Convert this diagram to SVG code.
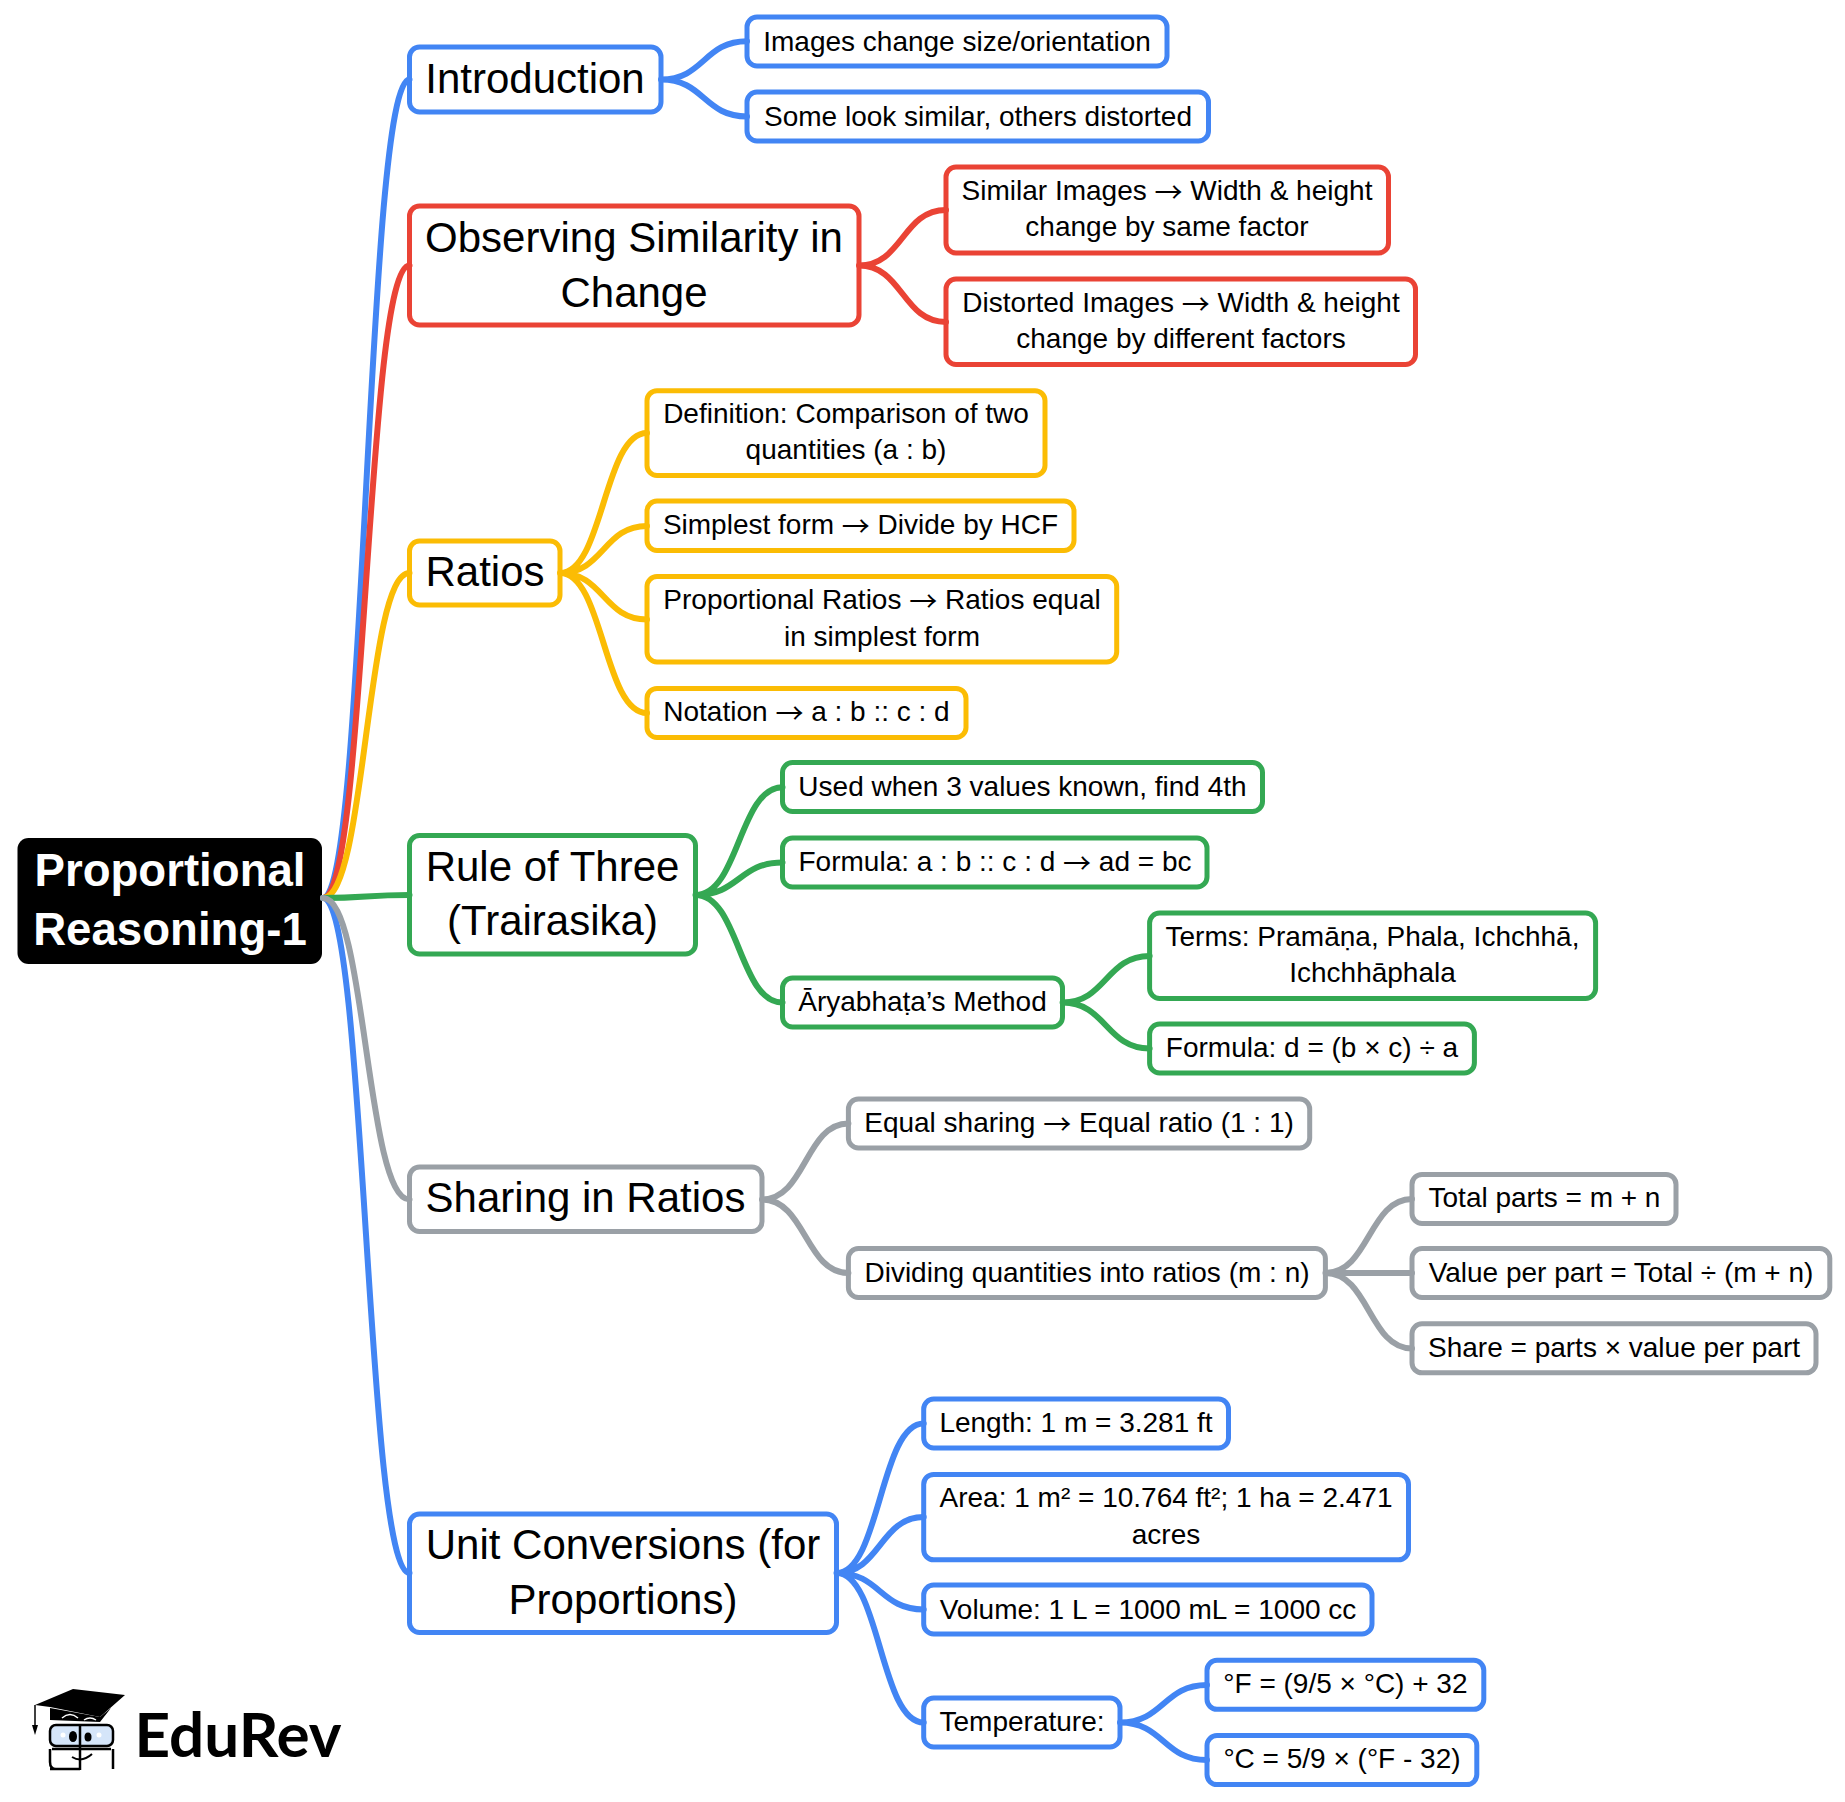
<svg xmlns="http://www.w3.org/2000/svg" width="1845" height="1802" viewBox="0 0 1845 1802">
<style>
text{font-family:"Liberation Sans",Arial,sans-serif;fill:#000;text-anchor:middle}
.l{font-size:28px}
.m{font-size:42px}
.a{font-family:"Noto Sans CJK SC",sans-serif;baseline-shift:-3px}
.b{fill:#fff;stroke-width:5}
.w{fill:none;stroke-width:6;stroke-linecap:round}
.blue{stroke:#4285f4}.red{stroke:#ea4335}.yel{stroke:#fbbc04}.grn{stroke:#34a853}.gry{stroke:#9aa0a6}
</style>
<rect width="1845" height="1802" fill="#fff"/>
<g id="root"><rect x="17.5" y="838" width="304.5" height="126" rx="11" fill="#000"/>
<text x="170" y="886" font-size="45.6" font-weight="700" style="fill:#fff">Proportional</text>
<text x="170" y="945" font-size="45.6" font-weight="700" style="fill:#fff">Reasoning-1</text></g>
<g id="n-intro"><rect class="b blue" x="409.5" y="47" width="251.5" height="65" rx="10"/><text class="m" x="535" y="93">Introduction</text></g>
<g id="n-obs"><rect class="b red" x="409.5" y="206" width="449.5" height="119" rx="10"/><text class="m" x="634" y="252">Observing Similarity in</text><text class="m" x="634" y="307">Change</text></g>
<g id="n-ratios"><rect class="b yel" x="409.5" y="541" width="150.5" height="64" rx="10"/><text class="m" x="485" y="586">Ratios</text></g>
<g id="n-rule"><rect class="b grn" x="409.5" y="835.5" width="286" height="118.5" rx="10"/><text class="m" x="552.5" y="881">Rule of Three</text><text class="m" x="552.5" y="935">(Trairasika)</text></g>
<g id="n-share"><rect class="b gry" x="409.5" y="1167" width="352.5" height="64.5" rx="10"/><text class="m" x="585.5" y="1212">Sharing in Ratios</text></g>
<g id="n-unit"><rect class="b blue" x="409.5" y="1514" width="427" height="118.5" rx="10"/><text class="m" x="623" y="1559">Unit Conversions (for</text><text class="m" x="623" y="1614">Proportions)</text></g>
<g id="l-images"><rect class="b blue" x="747" y="17" width="420" height="49" rx="10"/><text class="l" x="957" y="51">Images change size/orientation</text></g>
<g id="l-some"><rect class="b blue" x="747" y="92" width="461.5" height="49" rx="10"/><text class="l" x="978" y="126">Some look similar, others distorted</text></g>
<g id="l-similar"><rect class="b red" x="946" y="167" width="442.5" height="86" rx="10"/><text class="l" x="1167" y="200">Similar Images <tspan class="a">→</tspan> Width &amp; height</text><text class="l" x="1167" y="236">change by same factor</text></g>
<g id="l-distorted"><rect class="b red" x="946" y="279" width="469.5" height="85.5" rx="10"/><text class="l" x="1181" y="312">Distorted Images <tspan class="a">→</tspan> Width &amp; height</text><text class="l" x="1181" y="348">change by different factors</text></g>
<g id="l-def"><rect class="b yel" x="647" y="390.7" width="398" height="84.7" rx="10"/><text class="l" x="846" y="423">Definition: Comparison of two</text><text class="l" x="846" y="459">quantities (a : b)</text></g>
<g id="l-simplest"><rect class="b yel" x="647" y="501" width="427" height="49.5" rx="10"/><text class="l" x="860.5" y="534">Simplest form <tspan class="a">→</tspan> Divide by HCF</text></g>
<g id="l-prop"><rect class="b yel" x="647" y="576.6" width="469.7" height="85.4" rx="10"/><text class="l" x="882" y="609">Proportional Ratios <tspan class="a">→</tspan> Ratios equal</text><text class="l" x="882" y="646">in simplest form</text></g>
<g id="l-notation"><rect class="b yel" x="647" y="688.4" width="319" height="49" rx="10"/><text class="l" x="806.5" y="721">Notation <tspan class="a">→</tspan> a : b :: c : d</text></g>
<g id="l-used"><rect class="b grn" x="782.5" y="762.5" width="480" height="49" rx="10"/><text class="l" x="1022.5" y="796">Used when 3 values known, find 4th</text></g>
<g id="l-formula"><rect class="b grn" x="782.5" y="838" width="424.5" height="49" rx="10"/><text class="l" x="995" y="871">Formula: a : b :: c : d <tspan class="a">→</tspan> ad = bc</text></g>
<g id="l-arya"><rect class="b grn" x="782.5" y="978" width="280" height="49" rx="10"/><text class="l" x="922.5" y="1011">Āryabhaṭa’s Method</text></g>
<g id="l-terms"><rect class="b grn" x="1149.6" y="913" width="446" height="85.5" rx="10"/><text class="l" x="1372.5" y="946">Terms: Pramāṇa, Phala, Ichchhā,</text><text class="l" x="1372.5" y="982">Ichchhāphala</text></g>
<g id="l-formulad"><rect class="b grn" x="1149.6" y="1024" width="324.8" height="49" rx="10"/><text class="l" x="1312" y="1057">Formula: d = (b × c) ÷ a</text></g>
<g id="l-equal"><rect class="b gry" x="848.4" y="1099" width="461.3" height="49" rx="10"/><text class="l" x="1079" y="1132">Equal sharing <tspan class="a">→</tspan> Equal ratio (1 : 1)</text></g>
<g id="l-divide"><rect class="b gry" x="848.4" y="1248.5" width="477" height="49" rx="10"/><text class="l" x="1087" y="1282">Dividing quantities into ratios (m : n)</text></g>
<g id="l-total"><rect class="b gry" x="1412" y="1174.4" width="264" height="49" rx="10"/><text class="l" x="1544.5" y="1207">Total parts = m + n</text></g>
<g id="l-value"><rect class="b gry" x="1412" y="1248.5" width="417.8" height="49" rx="10"/><text class="l" x="1621" y="1282">Value per part = Total ÷ (m + n)</text></g>
<g id="l-sharep"><rect class="b gry" x="1412" y="1323.8" width="404" height="49" rx="10"/><text class="l" x="1614" y="1357">Share = parts × value per part</text></g>
<g id="l-length"><rect class="b blue" x="923.7" y="1399" width="304.8" height="49" rx="10"/><text class="l" x="1076" y="1432">Length: 1 m = 3.281 ft</text></g>
<g id="l-area"><rect class="b blue" x="923.7" y="1474.4" width="484.8" height="85.4" rx="10"/><text class="l" x="1166" y="1507">Area: 1 m² = 10.764 ft²; 1 ha = 2.471</text><text class="l" x="1166" y="1544">acres</text></g>
<g id="l-volume"><rect class="b blue" x="923.7" y="1585" width="448.3" height="49" rx="10"/><text class="l" x="1148" y="1619">Volume: 1 L = 1000 mL = 1000 cc</text></g>
<g id="l-temp"><rect class="b blue" x="923.7" y="1698" width="196.3" height="49" rx="10"/><text class="l" x="1022" y="1731">Temperature:</text></g>
<g id="l-f"><rect class="b blue" x="1207" y="1660.3" width="276.8" height="49" rx="10"/><text class="l" x="1345.4" y="1693">°F = (9/5 × °C) + 32</text></g>
<g id="l-c"><rect class="b blue" x="1207" y="1735.6" width="269.8" height="49" rx="10"/><text class="l" x="1342" y="1768">°C = 5/9 × (°F - 32)</text></g>
<g id="connectors">
<path class="w blue" d="M323 898C366 898 366 79.5 409.5 79.5"/>
<path class="w red" d="M323 898C366 898 366 265.5 409.5 265.5"/>
<path class="w yel" d="M323 898C366 898 366 573 409.5 573"/>
<path class="w grn" d="M323 898C366 898 366 895 409.5 895"/>
<path class="w blue" d="M323 898C366 898 366 1573 409.5 1573"/>
<path class="w gry" d="M323 898C366 898 366 1199.5 409.5 1199.5"/>
<path class="w blue" d="M661 79.5C704 79.5 704 41.25 747 41.25M661 79.5C704 79.5 704 116.5 747 116.5"/>
<path class="w red" d="M859 265.5C902.5 265.5 902.5 210 946 210M859 265.5C902.5 265.5 902.5 322 946 322"/>
<path class="w yel" d="M560 573C603.5 573 603.5 433 647 433M560 573C603.5 573 603.5 526 647 526M560 573C603.5 573 603.5 619.5 647 619.5M560 573C603.5 573 603.5 713 647 713"/>
<path class="w grn" d="M695.5 895C739 895 739 787.25 782.5 787.25M695.5 895C739 895 739 862.5 782.5 862.5M695.5 895C739 895 739 1002.5 782.5 1002.5"/>
<path class="w grn" d="M1062.6 1002.5C1106 1002.5 1106 956 1149.6 956M1062.6 1002.5C1106 1002.5 1106 1048.5 1149.6 1048.5"/>
<path class="w gry" d="M762 1199.5C805.5 1199.5 805.5 1123.5 848.4 1123.5M762 1199.5C805.5 1199.5 805.5 1273 848.4 1273"/>
<path class="w gry" d="M1325.5 1273C1369 1273 1369 1199 1412 1199M1325.5 1273H1412M1325.5 1273C1369 1273 1369 1348.5 1412 1348.5"/>
<path class="w blue" d="M836.5 1573C880 1573 880 1423.5 923.7 1423.5M836.5 1573C880 1573 880 1517 923.7 1517M836.5 1573C880 1573 880 1609.5 923.7 1609.5M836.5 1573C880 1573 880 1722.5 923.7 1722.5"/>
<path class="w blue" d="M1120 1722.5C1163.5 1722.5 1163.5 1685 1207 1685M1120 1722.5C1163.5 1722.5 1163.5 1760 1207 1760"/>
</g>
<g id="logo">
<path d="M50 1708V1720L100 1722L111 1708L100 1717Z" fill="#000"/>
<path d="M35 1705L73 1689L125 1695L100 1717L50 1707Z" fill="#000"/>
<path d="M35 1705V1725" stroke="#000" stroke-width="1.5" fill="none"/>
<path d="M32 1725H38L35 1735Z" fill="#000"/>
<path d="M62 1718Q70 1711 78 1718M84 1720Q90 1716 96 1720" stroke="#fff" stroke-width="1.5" fill="none"/>
<rect x="50" y="1725" width="63" height="21" rx="6" fill="#d5e5f9" stroke="#000" stroke-width="2.5"/>
<path d="M50 1749V1762Q50 1769 56 1769M113 1749V1769M52 1749H111M50 1769H80" stroke="#000" stroke-width="2.5" fill="none"/>
<path d="M80 1724V1770" stroke="#000" stroke-width="2.5"/>
<ellipse cx="73" cy="1736.5" rx="4" ry="5.5" fill="#000"/>
<ellipse cx="88" cy="1737" rx="3.5" ry="4.5" fill="#000"/>
<circle cx="63" cy="1735" r="2.5" fill="#fff"/><circle cx="99" cy="1735" r="2.5" fill="#fff"/>
<path d="M72 1757Q82 1763 92 1754" stroke="#000" stroke-width="2" fill="none"/>
<text x="238" y="1757" font-size="62" font-weight="700" style="font-family:Lato,sans-serif">EduRev</text>
</g>
</svg>
